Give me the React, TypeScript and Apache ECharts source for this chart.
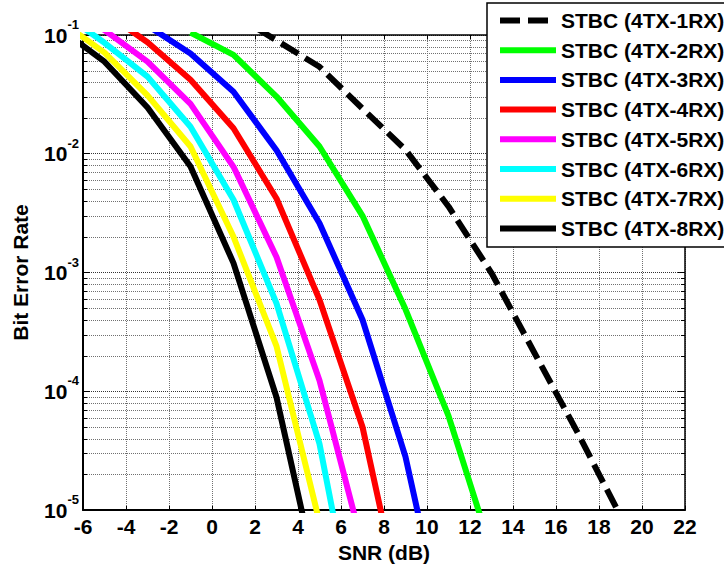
import { useEffect, useRef } from 'react';
import * as echarts from 'echarts';

// SNR (dB) sample points of the simulated curves
const snrDb = [-7, -5, -3, -1, 1, 3, 5, 7, 9, 11, 13, 15, 17, 19];

// Bit error rate per receive-antenna configuration
const ber1RX = [null, null, null, null, 0.15, 0.09, 0.054, 0.024, 0.0108, 0.0036, 9.9e-4, 2.1e-4, 4.5e-5, 8.9e-6];
const ber2RX = [null, null, null, 0.105, 0.068, 0.0303, 0.0115, 0.003, 4.9e-4, 6.2e-5, 4.5e-6, null, null, null];
const ber3RX = [null, null, 0.12, 0.07, 0.0333, 0.0107, 0.0026, 4.0e-4, 2.8e-5, 6.5e-7, null, null, null, null];
const ber4RX = [null, 0.155, 0.087, 0.042, 0.0164, 0.0042, 5.9e-4, 5.0e-5, 1.1e-6, null, null, null, null, null];
const ber5RX = [0.17, 0.11, 0.0597, 0.0263, 0.00776, 1.35e-3, 1.23e-4, 5.0e-6, null, null, null, null, null, null];
const ber6RX = [0.155, 0.086, 0.0446, 0.0169, 0.0041, 5.5e-4, 3.6e-5, 5.0e-7, null, null, null, null, null, null];
const ber7RX = [0.129, 0.071, 0.031, 0.0115, 0.002, 2.4e-4, 7.9e-6, null, null, null, null, null, null, null];
const ber8RX = [0.111, 0.0596, 0.0245, 0.0078, 0.0012, 8.9e-5, 2.1e-6, null, null, null, null, null, null, null];

const seriesNames = [
  'STBC (4TX-1RX)',
  'STBC (4TX-2RX)',
  'STBC (4TX-3RX)',
  'STBC (4TX-4RX)',
  'STBC (4TX-5RX)',
  'STBC (4TX-6RX)',
  'STBC (4TX-7RX)',
  'STBC (4TX-8RX)',
];
const seriesValues = [ber1RX, ber2RX, ber3RX, ber4RX, ber5RX, ber6RX, ber7RX, ber8RX];
const seriesColors = ['#000000', '#00ff00', '#0000ff', '#ff0000', '#ff00ff', '#00ffff', '#ffff00', '#000000'];

// axis ranges and ticks
const X_MIN = -6;
const X_MAX = 22;
const X_STEP = 2;
const Y_MIN = 1e-5;
const Y_MAX = 1e-1;
const decadeStarts = [1e-5, 1e-4, 1e-3, 1e-2];
const minorMultipliers = [2, 3, 4, 5, 6, 7, 8, 9];

const FONT = 'Liberation Sans, Arial, Helvetica, sans-serif';
const GRID_COLOR = '#707070';

export default function App() {
  const ref = useRef<HTMLDivElement>(null);

  useEffect(() => {
    if (!ref.current) return;
    const chart = echarts.init(ref.current, null, { renderer: 'svg' });

    const minorTicks: number[][] = [];
    decadeStarts.forEach((d) => minorMultipliers.forEach((m) => minorTicks.push([X_MIN, m * d])));

    const lineSeries = seriesValues.map((vals, i) => ({
      name: seriesNames[i],
      type: 'line',
      data: snrDb.map((x, k) => [x, vals[k]]).filter((p) => p[1] !== null),
      symbol: 'none',
      showSymbol: false,
      clip: true,
      z: 3,
      lineStyle: {
        color: seriesColors[i],
        width: 6,
        type: i === 0 ? [20, 8] : 'solid',
        cap: 'butt',
        join: 'round',
      },
      itemStyle: { color: seriesColors[i] },
      emphasis: { disabled: true },
    }));

    const option: any = {
      animation: false,
      backgroundColor: '#ffffff',
      textStyle: { fontFamily: FONT },
      grid: { left: 83, right: 39, top: 35, bottom: 58 },
      legend: {
        orient: 'vertical',
        left: 487,
        top: 3,
        padding: [7, 4, 8, 10],
        itemGap: 8.7,
        itemWidth: 56,
        itemHeight: 14,
        backgroundColor: '#ffffff',
        borderColor: '#000000',
        borderWidth: 1.5,
        selectedMode: false,
        data: seriesNames,
        itemStyle: { opacity: 0 },
        lineStyle: { width: 6 },
        textStyle: {
          fontFamily: FONT,
          fontSize: 21,
          fontWeight: 'bold',
          color: '#000000',
          lineHeight: 20,
        },
      },
      xAxis: [
        {
          type: 'value',
          min: X_MIN,
          max: X_MAX,
          interval: X_STEP,
          position: 'bottom',
          name: 'SNR (dB)',
          nameLocation: 'middle',
          nameGap: 32,
          nameTextStyle: { fontFamily: FONT, fontSize: 21, fontWeight: 'bold', color: '#000' },
          axisLine: { show: true, onZero: false, lineStyle: { color: '#000', width: 2 } },
          axisTick: { show: true, inside: true, length: 4, lineStyle: { color: '#000', width: 1 } },
          axisLabel: { fontFamily: FONT, fontSize: 21, fontWeight: 'bold', color: '#000', margin: 6 },
          splitLine: { show: true, lineStyle: { color: GRID_COLOR, width: 1, type: [1, 1] } },
        },
        {
          type: 'value',
          min: X_MIN,
          max: X_MAX,
          interval: X_STEP,
          position: 'top',
          axisLine: { show: true, onZero: false, lineStyle: { color: '#000', width: 1.5 } },
          axisTick: { show: true, inside: true, length: 4, lineStyle: { color: '#000', width: 1 } },
          axisLabel: { show: false },
          splitLine: { show: false },
        },
      ],
      yAxis: [
        {
          type: 'log',
          logBase: 10,
          min: Y_MIN,
          max: Y_MAX,
          position: 'left',
          name: 'Bit Error Rate',
          nameLocation: 'middle',
          nameGap: 52,
          nameTextStyle: { fontFamily: FONT, fontSize: 21, fontWeight: 'bold', color: '#000' },
          axisLine: { show: true, onZero: false, lineStyle: { color: '#000', width: 2 } },
          axisTick: { show: true, inside: true, length: 7, lineStyle: { color: '#000', width: 1 } },
          axisLabel: {
            margin: 4,
            formatter: (v: number) => `{b|10}{s|${Math.round(Math.log10(v))}}`,
            rich: {
              b: { fontFamily: FONT, fontSize: 21, fontWeight: 'bold', color: '#000', lineHeight: 34, verticalAlign: 'middle' },
              s: { fontFamily: FONT, fontSize: 13, fontWeight: 'bold', color: '#000', lineHeight: 13, verticalAlign: 'top' },
            },
          },
          splitLine: { show: true, lineStyle: { color: '#333', width: 1, type: [1, 1] } },
        },
        {
          type: 'log',
          logBase: 10,
          min: Y_MIN,
          max: Y_MAX,
          position: 'right',
          axisLine: { show: true, onZero: false, lineStyle: { color: '#000', width: 1.5 } },
          axisTick: { show: true, inside: true, length: 7, lineStyle: { color: '#000', width: 1 } },
          axisLabel: { show: false },
          splitLine: { show: false },
        },
      ],
      series: [
        {
          type: 'custom',
          name: 'minorGrid',
          xAxisIndex: 0,
          yAxisIndex: 0,
          z: 1,
          silent: true,
          data: minorTicks,
          encode: { x: 0, y: 1 },
          renderItem: (_params: any, api: any) => {
            const v = api.value(1);
            const l = api.coord([X_MIN, v]);
            const r = api.coord([X_MAX, v]);
            const y = Math.round(l[1]) + 0.5;
            return {
              type: 'group',
              children: [
                {
                  type: 'line',
                  shape: { x1: l[0], y1: y, x2: r[0], y2: y },
                  style: { stroke: GRID_COLOR, lineWidth: 1, lineDash: [1, 1] },
                },
                {
                  type: 'line',
                  shape: { x1: l[0], y1: y, x2: l[0] + 4, y2: y },
                  style: { stroke: '#000', lineWidth: 1 },
                },
                {
                  type: 'line',
                  shape: { x1: r[0] - 4, y1: y, x2: r[0], y2: y },
                  style: { stroke: '#000', lineWidth: 1 },
                },
              ],
            };
          },
        },
        ...lineSeries,
      ],
    };

    chart.setOption(option);
    return () => chart.dispose();
  }, []);

  return (
    <div
      ref={ref}
      style={{ position: 'fixed', left: 0, top: 0, width: 724, height: 568, background: '#fff' }}
    />
  );
}
